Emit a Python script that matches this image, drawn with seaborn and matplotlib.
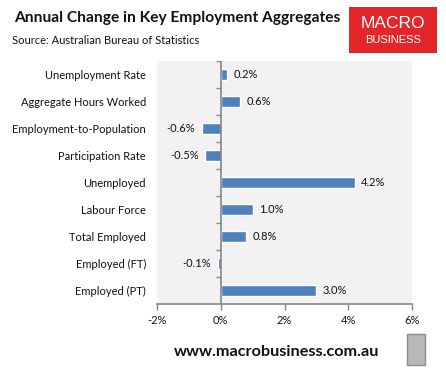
import matplotlib
matplotlib.use("Agg")
import matplotlib.pyplot as plt
import seaborn as sns
import pandas as pd
from matplotlib.patches import Rectangle

categories = ["Unemployment Rate", "Aggregate Hours Worked", "Employment-to-Population",
              "Participation Rate", "Unemployed", "Labour Force", "Total Employed",
              "Employed (FT)", "Employed (PT)"]
values = [0.2, 0.6, -0.6, -0.5, 4.2, 1.0, 0.8, -0.1, 3.0]
value_labels = ["0.2%", "0.6%", "-0.6%", "-0.5%", "4.2%", "1.0%", "0.8%", "-0.1%", "3.0%"]
xticks = [-2, 0, 2, 4, 6]
xtick_labels = ["-2%", "0%", "2%", "4%", "6%"]

sns.set_style("white")
plt.rcParams['font.family'] = ['Lato', 'DejaVu Sans']

W, H = 446, 375
fig = plt.figure(figsize=(W / 100, H / 100), dpi=100)
ax = fig.add_axes([157 / W, 1 - 304 / H, (412 - 157) / W, (304 - 61) / H])

df = pd.DataFrame({"cat": categories, "val": values})
sns.barplot(data=df, x="val", y="cat", orient="h", color="#4F81BD", saturation=1,
            width=0.42, ax=ax)
ax.set_facecolor("#F2F2F2")
ax.set_xlim(-2, 6)
ax.set_ylim(len(categories) - 0.5, -0.5)
ax.set_xlabel("")
ax.set_ylabel("")
for s in ["top", "right", "left"]:
    ax.spines[s].set_visible(False)
ax.spines["bottom"].set_color("#868686")
ax.spines["bottom"].set_linewidth(1.2)
ax.set_xticks(xticks)
ax.set_xticklabels(xtick_labels, fontsize=8, color="#111111")
ax.tick_params(axis="x", direction="out", length=4, width=1, color="#868686", pad=4, bottom=True)
ax.tick_params(axis="y", length=0, pad=8, labelsize=8, labelcolor="#111111")

# zero axis with category-boundary ticks
ax.axvline(0, color="#868686", lw=1.2, zorder=3)
bounds = [i - 0.5 for i in range(len(categories) + 1)]
ax.hlines(bounds, -0.16, 0, color="#868686", lw=1, zorder=3)

for i, (v, lab) in enumerate(zip(values, value_labels)):
    if v >= 0:
        ax.text(v + 0.2, i, lab, va="center", ha="left", fontsize=8, color="#111111")
    else:
        ax.text(v - 0.2, i, lab, va="center", ha="right", fontsize=8, color="#111111")

fig.text(14 / W, 1 - 18 / H, "Annual Change in Key Employment Aggregates", fontsize=11.2,
         fontweight="bold", va="center", ha="left", color="#111111")
fig.text(12 / W, 1 - 40 / H, "Source: Australian Bureau of Statistics", fontsize=8,
         va="center", ha="left", color="#111111")

# logo
fig.patches.append(Rectangle((349 / W, 1 - 53 / H), 88 / W, 46 / H, transform=fig.transFigure,
                             facecolor="#E3262A", edgecolor="none"))
fig.text(393 / W, 1 - 24 / H, "MACRO", fontsize=12.5, color="white", ha="center", va="center",
         family=["Liberation Sans", "DejaVu Sans"])
fig.text(393 / W, 1 - 40 / H, "BUSINESS", fontsize=8, color="white", ha="center", va="center",
         family=["Liberation Sans", "DejaVu Sans"])

fig.text(277 / W, 1 - 352 / H, "www.macrobusiness.com.au", fontsize=11.7, fontweight="bold",
         ha="center", va="center", color="#111111")
fig.patches.append(Rectangle((407 / W, 1 - 365 / H), 18 / W, 31 / H, transform=fig.transFigure,
                             facecolor="#B8B8B8", edgecolor="#8C8C8C", lw=1))

fig.savefig("out.png", dpi=100)
